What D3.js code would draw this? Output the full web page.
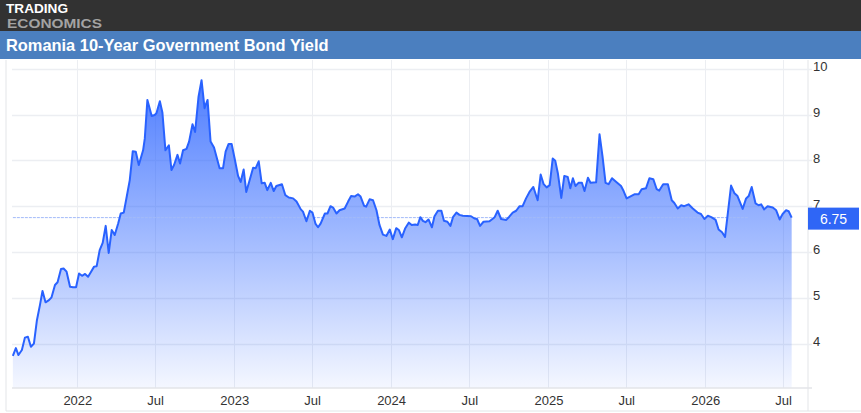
<!DOCTYPE html>
<html>
<head>
<meta charset="utf-8">
<script src="https://cdn.jsdelivr.net/npm/d3@7"></script>
<style>
  html, body { margin: 0; padding: 0; background: #fff; }
  svg { display: block; font-family: 'Liberation Sans', Arial, sans-serif; }
</style>
</head>
<body>
<div id="chart"></div>
<script>
// Romania 10Y bond yield, weekly closes.
var dates = [
  '2021-08-04','2021-08-11','2021-08-17','2021-08-25','2021-09-01','2021-09-08','2021-09-15','2021-09-22',
  '2021-09-29','2021-10-06','2021-10-12','2021-10-19','2021-10-27','2021-11-02','2021-11-10','2021-11-16',
  '2021-11-24','2021-11-30','2021-12-07','2021-12-15','2021-12-22','2021-12-29','2022-01-05','2022-01-12',
  '2022-01-19','2022-01-26','2022-02-02','2022-02-09','2022-02-15','2022-02-22','2022-03-01','2022-03-08',
  '2022-03-15','2022-03-22','2022-03-29','2022-04-06','2022-04-12','2022-04-19','2022-04-26','2022-05-03',
  '2022-05-10','2022-05-17','2022-05-24','2022-06-03','2022-06-07','2022-06-13','2022-06-23','2022-06-30',
  '2022-07-04','2022-07-12','2022-07-18','2022-07-25','2022-08-02','2022-08-08','2022-08-14','2022-08-22',
  '2022-08-28','2022-09-04','2022-09-12','2022-09-18','2022-09-26','2022-10-02','2022-10-10','2022-10-17',
  '2022-10-24','2022-10-31','2022-11-07','2022-11-15','2022-11-28','2022-12-06','2022-12-12','2022-12-19',
  '2022-12-26','2023-01-02','2023-01-10','2023-01-16','2023-01-23','2023-01-29','2023-02-06','2023-02-14',
  '2023-02-20','2023-02-27','2023-03-06','2023-03-13','2023-03-19','2023-03-27','2023-04-03','2023-04-09',
  '2023-04-22','2023-04-30','2023-05-08','2023-05-18','2023-05-26','2023-06-05','2023-06-10','2023-06-18',
  '2023-06-26','2023-07-02','2023-07-09','2023-07-15','2023-07-21','2023-07-31','2023-08-06','2023-08-13',
  '2023-08-19','2023-08-27','2023-09-03','2023-09-15','2023-09-23','2023-09-30','2023-10-08','2023-10-16',
  '2023-10-22','2023-10-30','2023-11-04','2023-11-12','2023-11-20','2023-11-28','2023-12-05','2023-12-13',
  '2023-12-21','2023-12-29','2024-01-05','2024-01-13','2024-01-19','2024-01-26','2024-02-03','2024-02-11',
  '2024-02-18','2024-02-26','2024-03-03','2024-03-09','2024-03-15','2024-03-21','2024-03-28','2024-04-05',
  '2024-04-11','2024-04-19','2024-04-27','2024-05-03','2024-05-11','2024-05-18','2024-05-24','2024-06-01',
  '2024-06-08','2024-06-16','2024-07-05','2024-07-13','2024-07-19','2024-07-26','2024-08-03','2024-08-17',
  '2024-08-29','2024-09-05','2024-09-13','2024-09-25','2024-10-02','2024-10-10','2024-10-18','2024-10-26',
  '2024-11-02','2024-11-10','2024-11-18','2024-11-27','2024-12-07','2024-12-14','2024-12-21','2024-12-28',
  '2025-01-04','2025-01-11','2025-01-17','2025-01-23','2025-01-31','2025-02-07','2025-02-15','2025-02-21',
  '2025-02-27','2025-03-05','2025-03-12','2025-03-20','2025-03-26','2025-04-03','2025-04-09','2025-04-22',
  '2025-04-30','2025-05-07','2025-05-14','2025-05-21','2025-05-29','2025-06-08','2025-06-19','2025-06-25',
  '2025-07-02','2025-07-10','2025-07-20','2025-07-30','2025-08-06','2025-08-16','2025-08-24','2025-09-02',
  '2025-09-10','2025-09-16','2025-09-25','2025-10-06','2025-10-15','2025-10-21','2025-10-29','2025-11-06',
  '2025-11-13','2025-11-23','2025-12-03','2025-12-14','2025-12-22','2025-12-30','2026-01-07','2026-01-15',
  '2026-01-25','2026-02-01','2026-02-09','2026-02-16','2026-03-02','2026-03-10','2026-03-17','2026-03-29',
  '2026-04-06','2026-04-12','2026-04-19','2026-04-28','2026-05-05','2026-05-11','2026-05-18','2026-05-26',
  '2026-06-07','2026-06-15','2026-06-23','2026-06-30','2026-07-08','2026-07-14','2026-07-21'
];

var yields = [
  3.73, 3.90, 3.75, 3.86, 4.13, 4.15, 3.93, 4.00,
  4.51, 4.84, 5.15, 4.90, 4.95, 5.01, 5.28, 5.34,
  5.63, 5.64, 5.57, 5.24, 5.23, 5.23, 5.53, 5.48,
  5.52, 5.46, 5.57, 5.68, 5.69, 6.04, 6.20, 6.57,
  5.98, 6.48, 6.37, 6.62, 6.84, 6.86, 7.21, 7.57,
  8.20, 8.19, 7.90, 8.22, 8.48, 9.32, 8.97, 8.99,
  9.03, 9.29, 9.04, 8.22, 8.33, 7.79, 7.90, 8.12,
  7.93, 8.22, 8.25, 8.41, 8.79, 8.62, 9.39, 9.75,
  9.14, 9.32, 8.41, 8.28, 7.83, 7.83, 8.19, 8.36,
  8.36, 8.04, 7.66, 7.53, 7.80, 7.31, 7.57, 7.84,
  7.83, 7.98, 7.50, 7.51, 7.35, 7.51, 7.33, 7.44,
  7.48, 7.24, 7.19, 7.17, 7.10, 6.93, 6.88, 6.67,
  6.90, 6.86, 6.62, 6.54, 6.62, 6.84, 6.84, 7.00,
  6.97, 6.84, 6.91, 6.95, 7.10, 7.22, 7.21, 7.26,
  7.21, 7.01, 6.99, 7.15, 7.13, 6.91, 6.59, 6.38,
  6.35, 6.49, 6.28, 6.52, 6.48, 6.32, 6.52, 6.64,
  6.59, 6.60, 6.59, 6.76, 6.68, 6.65, 6.71, 6.54,
  6.78, 6.90, 6.90, 6.68, 6.66, 6.57, 6.76, 6.86,
  6.81, 6.79, 6.78, 6.73, 6.72, 6.57, 6.66, 6.67,
  6.76, 6.90, 6.72, 6.70, 6.77, 6.86, 6.90, 7.00,
  7.00, 7.17, 7.31, 7.42, 7.13, 7.69, 7.48, 7.41,
  7.46, 8.04, 7.99, 7.72, 7.18, 7.66, 7.64, 7.39,
  7.61, 7.44, 7.51, 7.51, 7.33, 7.62, 7.51, 7.52,
  8.57, 8.08, 7.51, 7.48, 7.61, 7.53, 7.44, 7.33,
  7.17, 7.21, 7.26, 7.26, 7.37, 7.39, 7.61, 7.59,
  7.37, 7.34, 7.48, 7.48, 7.13, 7.07, 6.95, 7.02,
  7.00, 7.04, 6.95, 6.86, 6.83, 6.72, 6.79, 6.76,
  6.70, 6.49, 6.43, 6.33, 7.45, 7.28, 7.22, 6.94,
  7.17, 7.22, 7.42, 7.06, 7.02, 7.04, 6.93, 7.00,
  6.97, 6.91, 6.71, 6.83, 6.91, 6.89, 6.75
];

var lastValue = 6.75;
var lastLineEnd = '2026-04-12';
var xDomain = ['2021-08-02', '2026-08-28'];
var yDomain = [3.03, 10];
var yTicks = [4, 5, 6, 7, 8, 9, 10];
var xTickDates = ['2022-01-01','2022-07-01','2023-01-01','2023-07-01','2024-01-01',
                  '2024-07-01','2025-01-01','2025-07-01','2026-01-01','2026-07-01'];
var xTickLabels = ['2022','Jul','2023','Jul','2024','Jul','2025','Jul','2026','Jul'];
var title = 'Romania 10-Year Government Bond Yield';
var logoLines = ['TRADING', 'ECONOMICS'];

(function () {
    var W = 861, H = 413;
    var plot = { left: 12, right: 808, top: 60, bottom: 388 };
    var parse = d3.timeParse('%Y-%m-%d');
    var C = {
        line: '#2962ff', grid: '#eceef2', frame: '#e3e5e8',
        text: '#333333', header: '#323232', band: '#4b7fbf'
    };

    var data = dates.map(function (d, i) { return { date: parse(d), value: yields[i] }; });

    var svg = d3.select('#chart').append('svg')
        .attr('width', W).attr('height', H)
        .attr('viewBox', '0 0 ' + W + ' ' + H);

    // 45.8 px per percentage point, bottom of plot at yDomain[0]
    var x = d3.scaleTime().domain(xDomain.map(parse)).range([plot.left, plot.right]);
    var y = d3.scaleLinear().domain(yDomain)
        .range([plot.bottom, plot.bottom - (yDomain[1] - yDomain[0]) * 45.8]);

    // Header with two-line logo
    svg.append('rect').attr('x', 0).attr('y', 0).attr('width', W).attr('height', 31)
        .attr('fill', C.header);
    svg.append('text').attr('x', 6).attr('y', 13.2).text(logoLines[0])
        .attr('fill', '#ffffff').attr('font-weight', 'bold').attr('font-size', 13)
        .attr('textLength', 62).attr('lengthAdjust', 'spacingAndGlyphs');
    svg.append('text').attr('x', 7).attr('y', 27.8).text(logoLines[1])
        .attr('fill', '#a3a3a3').attr('font-weight', 'bold').attr('font-size', 13)
        .attr('textLength', 95).attr('lengthAdjust', 'spacingAndGlyphs');

    svg.append('rect').attr('x', 0).attr('y', 31).attr('width', W).attr('height', 28)
        .attr('fill', C.band);
    svg.append('text').attr('x', 6).attr('y', 51).text(title)
        .attr('fill', '#ffffff').attr('font-weight', 'bold').attr('font-size', 16.4);

    // Frame lines
    svg.append('line').attr('x1', 6).attr('x2', 6).attr('y1', plot.top).attr('y2', 411)
        .attr('stroke', C.frame);
    svg.append('line').attr('x1', plot.right).attr('x2', plot.right).attr('y1', plot.top).attr('y2', 411)
        .attr('stroke', C.frame);
    svg.append('line').attr('x1', 6).attr('x2', W).attr('y1', 411).attr('y2', 411)
        .attr('stroke', C.frame);

    // Gridlines
    var g = svg.append('g');
    g.selectAll('line.gy').data(yTicks).join('line').attr('class', 'gy')
        .attr('x1', plot.left).attr('x2', plot.right + 4)
        .attr('y1', function (d) { return Math.round(y(d)) + 0.5; })
        .attr('y2', function (d) { return Math.round(y(d)) + 0.5; })
        .attr('stroke', C.grid).attr('stroke-width', 1.5);
    g.selectAll('line.gx').data(xTickDates).join('line').attr('class', 'gx')
        .attr('y1', plot.top).attr('y2', plot.bottom)
        .attr('x1', function (d) { return Math.round(x(parse(d))) + 0.5; })
        .attr('x2', function (d) { return Math.round(x(parse(d))) + 0.5; })
        .attr('stroke', C.grid).attr('stroke-width', 1);

    // Area gradient
    var grad = svg.append('defs').append('linearGradient')
        .attr('id', 'fillGrad').attr('gradientUnits', 'userSpaceOnUse')
        .attr('x1', 0).attr('x2', 0).attr('y1', y(yDomain[1])).attr('y2', plot.bottom);
    grad.append('stop').attr('offset', 0).attr('stop-color', C.line).attr('stop-opacity', 0.85);
    grad.append('stop').attr('offset', 0.55).attr('stop-color', C.line).attr('stop-opacity', 0.42);
    grad.append('stop').attr('offset', 1).attr('stop-color', C.line).attr('stop-opacity', 0.05);

    var area = d3.area()
        .x(function (d) { return x(d.date); })
        .y0(plot.bottom)
        .y1(function (d) { return y(d.value); });
    var line = d3.line()
        .x(function (d) { return x(d.date); })
        .y(function (d) { return y(d.value); });

    svg.append('path').datum(data).attr('d', area).attr('fill', 'url(#fillGrad)');

    // Bottom axis
    var xAxis = d3.axisBottom(x).tickValues(xTickDates.map(parse)).tickSize(0).tickPadding(8)
        .tickFormat(function (d, i) { return xTickLabels[i]; });
    var xg = svg.append('g').attr('transform', 'translate(0,' + plot.bottom + ')').call(xAxis);
    xg.select('.domain').attr('stroke', C.frame).attr('stroke-width', 1.5)
        .attr('d', 'M' + plot.left + ',0H' + (plot.right + 4));
    xg.selectAll('text').attr('fill', C.text).attr('font-size', 13)
        .attr('font-family', "'Liberation Sans', Arial, sans-serif");

    // Right axis
    var yAxis = d3.axisRight(y).tickValues(yTicks).tickSize(0).tickPadding(5)
        .tickFormat(d3.format('d'));
    var yg = svg.append('g').attr('transform', 'translate(' + plot.right + ',0)').call(yAxis);
    yg.select('.domain').remove();
    yg.selectAll('text').attr('fill', C.text).attr('font-size', 13).attr('dy', '0.15em')
        .attr('font-family', "'Liberation Sans', Arial, sans-serif");

    // Last value reference line
    svg.append('line')
        .attr('x1', x(data[0].date)).attr('x2', x(parse(lastLineEnd)))
        .attr('y1', y(lastValue)).attr('y2', y(lastValue))
        .attr('stroke', '#a2baf9').attr('stroke-width', 1).attr('stroke-dasharray', '3,1');

    svg.append('path').datum(data).attr('d', line)
        .attr('fill', 'none').attr('stroke', C.line).attr('stroke-width', 2)
        .attr('stroke-linejoin', 'round');

    // Last value label
    svg.append('rect').attr('x', plot.right).attr('y', y(lastValue) - 10)
        .attr('width', 51).attr('height', 22).attr('fill', '#2f66f6');
    svg.append('text').attr('x', plot.right + 25.5).attr('y', y(lastValue) + 1)
        .attr('dy', '0.35em').attr('text-anchor', 'middle')
        .attr('fill', '#ffffff').attr('font-size', 14).text(d3.format('.2f')(lastValue));
})();
</script>
</body>
</html>
